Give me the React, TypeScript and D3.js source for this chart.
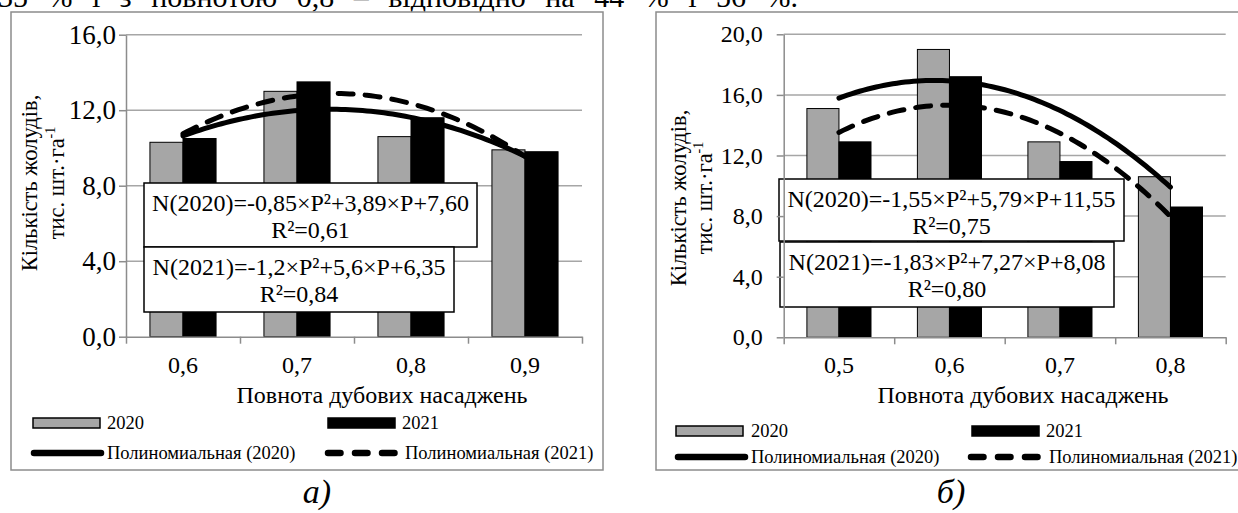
import React, { useRef, useEffect } from 'react';
import * as d3 from 'd3';

// chart a)
const categoriesA = ['0,6', '0,7', '0,8', '0,9'];
const values2020A = [10.3, 13.0, 10.6, 9.9];
const values2021A = [10.5, 13.5, 11.6, 9.8];
const yTicksA = [0, 4, 8, 12, 16];
const equationsA = [
  ['N(2020)=-0,85×P²+3,89×P+7,60', 'R²=0,61'],
  ['N(2021)=-1,2×P²+5,6×P+6,35', 'R²=0,84'],
];

// chart б)
const categoriesB = ['0,5', '0,6', '0,7', '0,8'];
const values2020B = [15.1, 19.0, 12.9, 10.6];
const values2021B = [12.9, 17.2, 11.6, 8.6];
const yTicksB = [0, 4, 8, 12, 16, 20];
const equationsB = [
  ['N(2020)=-1,55×P²+5,79×P+11,55', 'R²=0,75'],
  ['N(2021)=-1,83×P²+7,27×P+8,08', 'R²=0,80'],
];

const years = ['2020', '2021'];
const trendNames = ['Полиномиальная (2020)', 'Полиномиальная (2021)'];
const xTitle = 'Повнота дубових насаджень';
const yTitleLines = ['Кількість жолудів,', 'тис. шт.·га'];
const topText = '35 % і з повнотою 0,8 – відповідно на 44 % і 56 %.';

const FONT = "'Liberation Serif', 'DejaVu Serif', serif";
const GRID = '#a6a6a6';
const AXIS = '#8c8c8c';

// least squares quadratic fit over category index 1..n (as the spreadsheet trendline does)
function fitQuadratic(ys: number[]) {
  const xs = ys.map((_, i) => i + 1);
  const s = (k: number) => d3.sum(xs, (x) => x ** k);
  const t = (k: number) => d3.sum(xs, (x, i) => x ** k * ys[i]);
  const M = [
    [s(4), s(3), s(2)],
    [s(3), s(2), s(1)],
    [s(2), s(1), xs.length],
  ];
  const v = [t(2), t(1), t(0)];
  const det = (m: number[][]) =>
    m[0][0] * (m[1][1] * m[2][2] - m[1][2] * m[2][1]) -
    m[0][1] * (m[1][0] * m[2][2] - m[1][2] * m[2][0]) +
    m[0][2] * (m[1][0] * m[2][1] - m[1][1] * m[2][0]);
  const D = det(M);
  return [0, 1, 2].map(
    (c) => det(M.map((row, r) => row.map((val, j) => (j === c ? v[r] : val)))) / D
  );
}

const chartA = {
  categories: categoriesA,
  series: [values2020A, values2021A],
  yTicks: yTicksA,
  equations: equationsA,
  frame: { x0: 11, y0: 12, x1: 603, y1: 470 },
  plot: { left: 126, right: 582, top: 34.7, bottom: 336.7 },
  yLabel: { pad: 3, size: 27 },
  boxes: [
    { x: 144, y: 183, w: 333, h: 64 },
    { x: 144, y: 247, w: 310, h: 65 },
  ],
  yTitle: { x: [37, 64], y: 183 },
  xTitleAt: { x: 382, y: 403 },
  legend: { row1: 423, row2: 453, sw: [33, 328], ln: [31, 325], tx: [107, 402] },
  caption: { x: 317, y: 503, text: 'а)' },
};

const chartB = {
  categories: categoriesB,
  series: [values2020B, values2021B],
  yTicks: yTicksB,
  equations: equationsB,
  frame: { x0: 656, y0: 12, x1: 1250, y1: 470 },
  plot: { left: 783.7, right: 1225.7, top: 34.3, bottom: 337.3 },
  yLabel: { pad: 14, size: 24 },
  boxes: [
    { x: 779, y: 179, w: 345, h: 62 },
    { x: 780, y: 242, w: 334, h: 65 },
  ],
  yTitle: { x: [686, 712], y: 198 },
  xTitleAt: { x: 1023, y: 403 },
  legend: { row1: 431, row2: 457, sw: [676, 972], ln: [675, 968], tx: [751, 1046] },
  caption: { x: 951, y: 503, text: 'б)' },
};

function drawChart(svg: any, cfg: any) {
  const { frame: f, plot: p } = cfg;
  const g = svg.append('g');

  g.append('rect')
    .attr('x', f.x0).attr('y', f.y0)
    .attr('width', f.x1 - f.x0).attr('height', f.y1 - f.y0)
    .attr('fill', '#fff').attr('stroke', AXIS).attr('stroke-width', 1.5);

  const yMax = d3.max(cfg.yTicks) as number;
  const x = d3.scaleBand().domain(cfg.categories).range([p.left, p.right]);
  const groupW = x.bandwidth() * 0.58;
  const sub = d3.scaleBand().domain(years).range([0, groupW]);
  const off = (x.bandwidth() - groupW) / 2;
  const y = d3.scaleLinear().domain([0, yMax]).range([p.bottom, p.top]);

  // gridlines
  g.selectAll(null)
    .data(cfg.yTicks.filter((d: number) => d > 0))
    .join('line')
    .attr('x1', p.left).attr('x2', p.right)
    .attr('y1', (d: number) => y(d)).attr('y2', (d: number) => y(d))
    .attr('stroke', GRID).attr('stroke-width', 1.5);

  // bars
  cfg.series.forEach((vals: number[], si: number) => {
    g.selectAll(null)
      .data(vals)
      .join('rect')
      .attr('x', (_: number, i: number) => (x(cfg.categories[i]) as number) + off + (sub(years[si]) as number))
      .attr('y', (d: number) => y(d))
      .attr('width', sub.bandwidth())
      .attr('height', (d: number) => y(0) - y(d))
      .attr('fill', si === 0 ? '#a6a6a6' : '#000')
      .attr('stroke', '#000').attr('stroke-width', 1);
  });

  // trendlines
  const n = cfg.categories.length;
  const xIdx = d3.scaleLinear().domain([1, n]).range([
    (x(cfg.categories[0]) as number) + x.bandwidth() / 2,
    (x(cfg.categories[n - 1]) as number) + x.bandwidth() / 2,
  ]);
  cfg.series.forEach((vals: number[], si: number) => {
    const [a, b, c] = fitQuadratic(vals);
    const pts = d3.range(0, 81).map((k) => 1 + ((n - 1) * k) / 80);
    const line = d3.line<number>()
      .x((P) => xIdx(P))
      .y((P) => y(a * P * P + b * P + c));
    g.append('path')
      .datum(pts)
      .attr('d', line)
      .attr('fill', 'none')
      .attr('stroke', '#000')
      .attr('stroke-width', 5)
      .attr('stroke-dasharray', si === 1 ? '15,12' : null)
      .attr('stroke-linecap', 'round');
  });

  // equation boxes
  cfg.boxes.forEach((bx: any, i: number) => {
    g.append('rect')
      .attr('x', bx.x).attr('y', bx.y).attr('width', bx.w).attr('height', bx.h)
      .attr('fill', '#fff').attr('stroke', '#000').attr('stroke-width', 1.5);
    cfg.equations[i].forEach((txt: string, li: number) => {
      g.append('text')
        .attr('x', bx.x + bx.w / 2).attr('y', bx.y + 28 + li * 27)
        .attr('text-anchor', 'middle')
        .style('font-family', FONT).attr('font-size', 24)
        .text(txt);
    });
  });

  // y axis
  const fmt = (d: number) => d3.format('.1f')(d).replace('.', ',');
  const yAxis = g.append('g')
    .attr('transform', `translate(${p.left},0)`)
    .call(d3.axisLeft(y).tickValues(cfg.yTicks).tickSize(7).tickSizeOuter(0).tickPadding(cfg.yLabel.pad).tickFormat(fmt as any));
  yAxis.attr('font-family', null).attr('font-size', cfg.yLabel.size).style('font-family', FONT);
  yAxis.select('.domain').attr('stroke', AXIS).attr('stroke-width', 1.5);
  yAxis.selectAll('.tick line').attr('stroke', AXIS).attr('stroke-width', 1.5);
  yAxis.selectAll('.tick text').attr('fill', '#000');

  // x axis: tick marks between categories, labels at centres
  const xEdges = d3.scaleLinear().domain([0, n]).range([p.left, p.right]);
  const xAxis = g.append('g')
    .attr('transform', `translate(0,${p.bottom})`)
    .call(d3.axisBottom(xEdges).tickValues(d3.range(n + 1)).tickSize(7).tickSizeOuter(0).tickFormat(() => ''));
  xAxis.select('.domain').attr('stroke', AXIS).attr('stroke-width', 1.5);
  xAxis.selectAll('.tick line').attr('stroke', AXIS).attr('stroke-width', 1.5);
  const xLabels = g.append('g')
    .attr('transform', `translate(0,${p.bottom})`)
    .call(d3.axisBottom(x).tickSize(0).tickPadding(19));
  xLabels.attr('font-family', null).attr('font-size', 24).style('font-family', FONT);
  xLabels.select('.domain').remove();
  xLabels.selectAll('.tick text').attr('fill', '#000');

  // axis titles
  g.append('text')
    .attr('x', cfg.xTitleAt.x).attr('y', cfg.xTitleAt.y)
    .attr('text-anchor', 'middle')
    .style('font-family', FONT).attr('font-size', 24)
    .text(xTitle);

  yTitleLines.forEach((txt, li) => {
    const t = g.append('text')
      .attr('transform', `translate(${cfg.yTitle.x[li]},${cfg.yTitle.y}) rotate(-90)`)
      .attr('text-anchor', 'middle')
      .style('font-family', FONT).attr('font-size', 22.5);
    t.append('tspan').text(txt);
    if (li === 1) {
      t.append('tspan').attr('dy', -9).attr('font-size', 14).text('-1');
    }
  });

  // legend
  const L = cfg.legend;
  years.forEach((yr, i) => {
    g.append('rect')
      .attr('x', L.sw[i]).attr('y', L.row1 - 5).attr('width', 67).attr('height', 10)
      .attr('fill', i === 0 ? '#a6a6a6' : '#000').attr('stroke', '#000').attr('stroke-width', 1.5);
    g.append('text')
      .attr('x', L.tx[i]).attr('y', L.row1 + 6)
      .style('font-family', FONT).attr('font-size', 18.5)
      .text(yr);
  });
  trendNames.forEach((nm, i) => {
    g.append('line')
      .attr('x1', L.ln[i] + 3).attr('x2', L.ln[i] + 70)
      .attr('y1', L.row2).attr('y2', L.row2)
      .attr('stroke', '#000').attr('stroke-width', 6.5).attr('stroke-linecap', 'round')
      .attr('stroke-dasharray', i === 1 ? '12.5,14.5' : null);
    g.append('text')
      .attr('x', L.tx[i] + (i === 1 ? 3 : 0)).attr('y', L.row2 + 6)
      .style('font-family', FONT).attr('font-size', 18.5)
      .text(nm);
  });

  // caption
  g.append('text')
    .attr('x', cfg.caption.x).attr('y', cfg.caption.y)
    .attr('text-anchor', 'middle')
    .style('font-family', FONT).attr('font-size', 34).attr('font-style', 'italic')
    .text(cfg.caption.text);
}

const App = () => {
  const ref = useRef<SVGSVGElement>(null);

  useEffect(() => {
    const svg = d3.select(ref.current);
    svg.selectAll('*').remove();

    // last line of the paragraph above, cut by the picture edge
    svg.append('text')
      .attr('x', -2).attr('y', 7)
      .style('font-family', FONT).attr('font-size', 30)
      .attr('word-spacing', 12)
      .text(topText);

    drawChart(svg, chartA);
    drawChart(svg, chartB);
  }, []);

  return (
    <svg
      ref={ref}
      width={1238}
      height={513}
      style={{ position: 'absolute', left: 0, top: 0, background: '#fff', fontFamily: FONT }}
    />
  );
};

export default App;
